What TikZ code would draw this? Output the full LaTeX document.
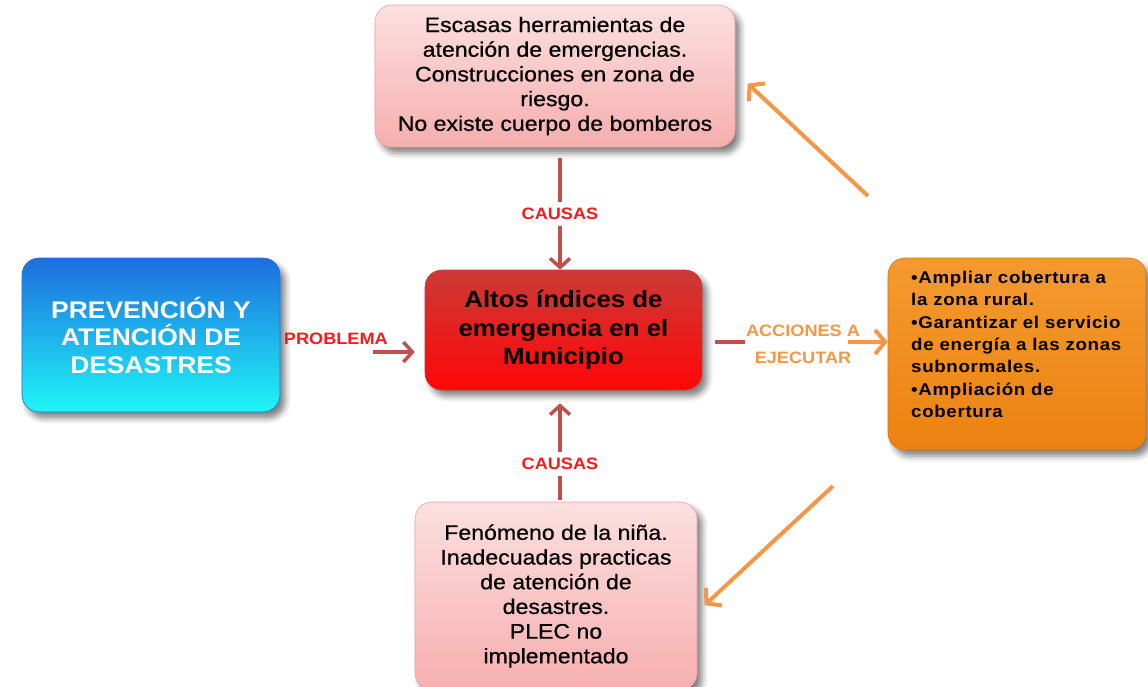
\documentclass[tikz,border=0pt]{standalone}
\usepackage{fontspec}
\setmainfont{Liberation Sans}[FakeStretch=1.1]
\usetikzlibrary{arrows.meta,shadows.blur,calc}
\definecolor{pinkT}{HTML}{FCE0E0}
\definecolor{pinkB}{HTML}{F7AEAE}
\definecolor{pinkD}{HTML}{F2A0A0}
\definecolor{redT}{HTML}{CC3A36}
\definecolor{redB}{HTML}{FF0606}
\definecolor{blueT}{HTML}{1E6EDE}
\definecolor{blueB}{HTML}{1EF6F6}
\definecolor{orT}{HTML}{F59A30}
\definecolor{orB}{HTML}{EC8210}
\definecolor{arrowred}{HTML}{C0504D}
\definecolor{arroworange}{HTML}{F79646}
\definecolor{labelred}{HTML}{F41C1C}
\begin{document}
\begin{tikzpicture}[x=1pt,y=-1pt,
  box/.style={rounded corners=17pt, align=center, inner sep=0pt,
    blur shadow={shadow xshift=5pt, shadow yshift=-6pt, shadow blur radius=6pt, shadow opacity=50}},
  pinkbox/.style={box, top color=pinkT, bottom color=pinkB, draw=pinkD, line width=0.6pt,
    font=\fontsize{21}{24.7}\selectfont\addfontfeature{FakeBold=0.6}},
  redbox/.style={box, top color=redT, bottom color=redB, draw=redT, line width=0.6pt,
    font=\fontsize{23.5}{28.5}\selectfont\bfseries},
  bluebox/.style={box, top color=blueT, bottom color=blueB, draw=blueT, line width=0.6pt,
    text=white, font=\fontsize{24}{27.5}\selectfont\bfseries},
  orbox/.style={box, top color=orT, bottom color=orB, draw=orB!90!black, line width=0.6pt},
  redarrow/.style={draw=arrowred, line width=3.5pt, -{Straight Barb[length=9pt,width=20pt]}},
  redline/.style={draw=arrowred, line width=3.5pt},
  orarrow/.style={draw=arroworange, line width=4pt, -{Straight Barb[length=10pt,width=24pt]}},
  lab/.style={font=\fontsize{16.5}{18}\selectfont\bfseries, text=labelred, inner sep=2pt},
  olab/.style={font=\fontsize{16.5}{27}\selectfont\bfseries, text=arroworange, align=center, inner sep=0pt}
]
\useasboundingbox (0,0) rectangle (1148,686);

\node[pinkbox, minimum width=360pt, minimum height=142pt] (top) at (555,76)
  {Escasas herramientas de\\atención de emergencias.\\Construcciones en zona de\\riesgo.\\No existe cuerpo de bomberos};
\node[pinkbox, minimum width=282pt, minimum height=188pt] (bot) at (556,596)
  {Fenómeno de la niña.\\Inadecuadas practicas\\de atención de\\desastres.\\PLEC no\\implementado};
\node[bluebox, minimum width=258pt, minimum height=154pt] (pad) at (151,335)
  {PREVENCIÓN Y\\ATENCIÓN DE\\DESASTRES};
\node[redbox, minimum width=277pt, minimum height=120pt] (center) at (563.5,330)
  {Altos índices de\\emergencia en el\\Municipio};
\node[orbox, minimum width=258pt, minimum height=192pt] (acc) at (1017,354) {};
\node[anchor=north west, align=left, inner sep=0pt,
  font=\fontsize{17}{22.3}\selectfont\bfseries\addfontfeature{LetterSpace=4}]
  (acctext) at (911,271)
  {•Ampliar cobertura a\\la zona rural.\\•Garantizar el servicio\\de energía a las zonas\\subnormales.\\•Ampliación de\\cobertura};

% causas arrows
\draw[redarrow] ([shift={(5,11)}]top.south) coordinate (c1) -- (c1 |- center.north)
  node[pos=0.5, lab, fill=white, inner sep=6pt] {CAUSAS};
\draw[redarrow] ([shift={(4,-2)}]bot.north) coordinate (c2) -- ([yshift=-13pt]c2 |- center.south)
  node[pos=0.37, lab, fill=white, inner sep=6pt] {CAUSAS};

% problema
\coordinate (p1) at (373,352);
\draw[redarrow] (p1) -- ([xshift=-10pt]center.west |- p1);
\node[lab, anchor=south east] at ([shift={(17,-5)}]p1) {PROBLEMA};

% acciones
\coordinate (r2) at (745,342);
\draw[redline] ([xshift=13pt]center.east |- r2) -- (r2);
\node[olab] (accl) at (803,344) {ACCIONES A\\EJECUTAR};
\coordinate (r3) at (848,342);
\draw[orarrow] (r3) -- (acc.west |- r3);

% diagonal orange arrows
\coordinate (d1) at (868,196);
\draw[orarrow, shorten >=17pt] (d1) -- ([yshift=4pt]top.east);
\coordinate (d2) at (833,486);
\draw[orarrow, shorten >=10pt] (d2) -- ([yshift=-16pt]bot.east);
\end{tikzpicture}
\end{document}
